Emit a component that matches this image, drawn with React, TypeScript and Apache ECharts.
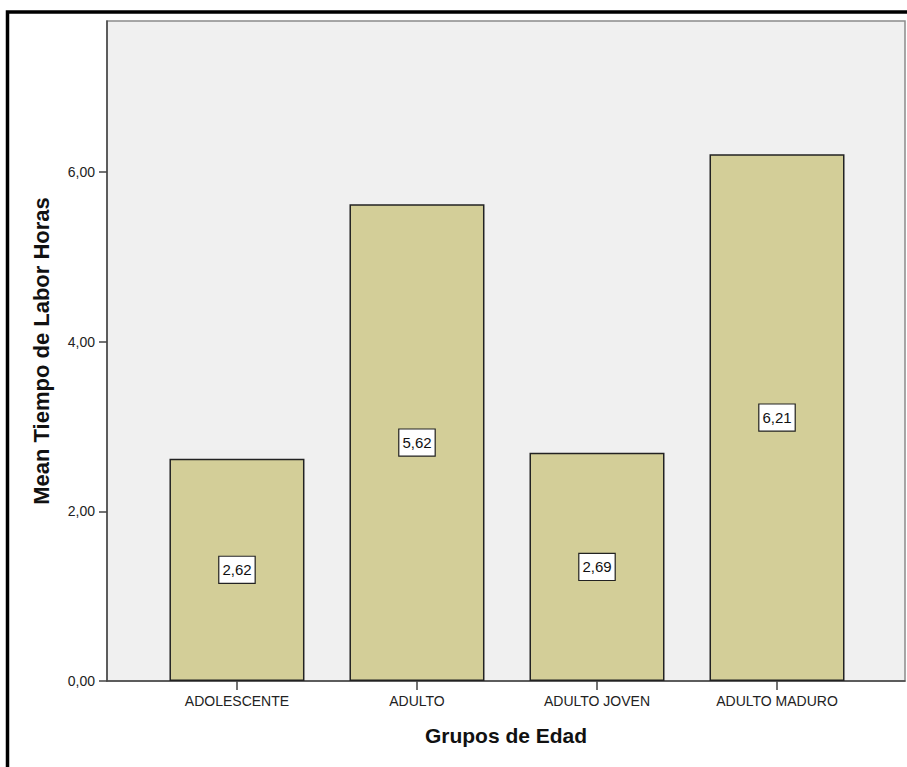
import React, { useEffect, useRef } from "react";
import * as echarts from "echarts";

const categories = ["ADOLESCENTE", "ADULTO", "ADULTO JOVEN", "ADULTO MADURO"];
const meanHours = [2.62, 5.62, 2.69, 6.21];
const yTickValues = [0, 2, 4, 6];
const xTitle = "Grupos de Edad";
const yTitle = "Mean Tiempo de Labor Horas";

const fmt = (v: number) => v.toFixed(2).replace(".", ",");

export default function App() {
  const ref = useRef<HTMLDivElement>(null);
  useEffect(() => {
    if (!ref.current) return;
    const chart = echarts.init(ref.current, undefined, { renderer: "svg" });
    const font = "'Liberation Sans', Arial, sans-serif";
    chart.setOption({
      animation: false,
      backgroundColor: "#ffffff",
      graphic: [
        {
          type: "rect",
          shape: { x: 7.5, y: 12, width: 1200, height: 1200 },
          style: { fill: "none", stroke: "#000", lineWidth: 3.5 },
          z: 100,
        },
      ],
      grid: {
        left: 107,
        top: 21,
        right: 2,
        bottom: 86,
        show: true,
        backgroundColor: "#F0F0F0",
        borderColor: "#8a8a8a",
        borderWidth: 1.5,
      },
      xAxis: {
        type: "value",
        min: -0.722,
        max: 3.711,
        name: xTitle,
        nameLocation: "middle",
        nameGap: 44,
        nameTextStyle: { fontFamily: font, fontWeight: "bold", fontSize: 21, color: "#111" },
        axisLine: { show: true, onZero: false, lineStyle: { color: "#444", width: 1.5 } },
        axisTick: { show: true, length: 9, customValues: [0, 1, 2, 3], lineStyle: { color: "#444", width: 1.5 } },
        axisLabel: {
          customValues: [0, 1, 2, 3],
          formatter: (v: number) => categories[Math.round(v)] ?? "",
          margin: 13,
          fontFamily: font,
          fontSize: 14,
          color: "#222",
        },
        splitLine: { show: false },
      },
      yAxis: {
        type: "value",
        min: 0,
        max: 7.78,
        name: yTitle,
        nameLocation: "middle",
        nameGap: 55,
        nameTextStyle: { fontFamily: font, fontWeight: "bold", fontSize: 22, color: "#111" },
        axisLine: { show: true, onZero: false, lineStyle: { color: "#444", width: 1.5 } },
        axisTick: { show: true, length: 8, customValues: yTickValues, lineStyle: { color: "#444", width: 1.5 } },
        axisLabel: {
          customValues: yTickValues,
          formatter: (v: number) => fmt(v),
          margin: 12,
          fontFamily: font,
          fontSize: 14,
          color: "#222",
        },
        splitLine: { show: false },
      },
      series: [
        {
          type: "bar",
          data: categories.map((c, i) => [i, meanHours[i]]),
          barWidth: 135,
          itemStyle: { color: "#D3CE98", borderColor: "#222", borderWidth: 1.5 },
          label: {
            show: true,
            position: "inside",
            formatter: (p: any) => fmt(p.value[1]),
            fontFamily: font,
            fontSize: 15,
            color: "#111",
            backgroundColor: "#fff",
            borderColor: "#222",
            borderWidth: 1.2,
            padding: [5, 3, 4, 3],
            lineHeight: 17,
          },
        },
      ],
    });
    return () => chart.dispose();
  }, []);
  return (
    <div
      ref={ref}
      style={{ position: "absolute", left: 0, top: 0, width: 907, height: 767 }}
    />
  );
}
